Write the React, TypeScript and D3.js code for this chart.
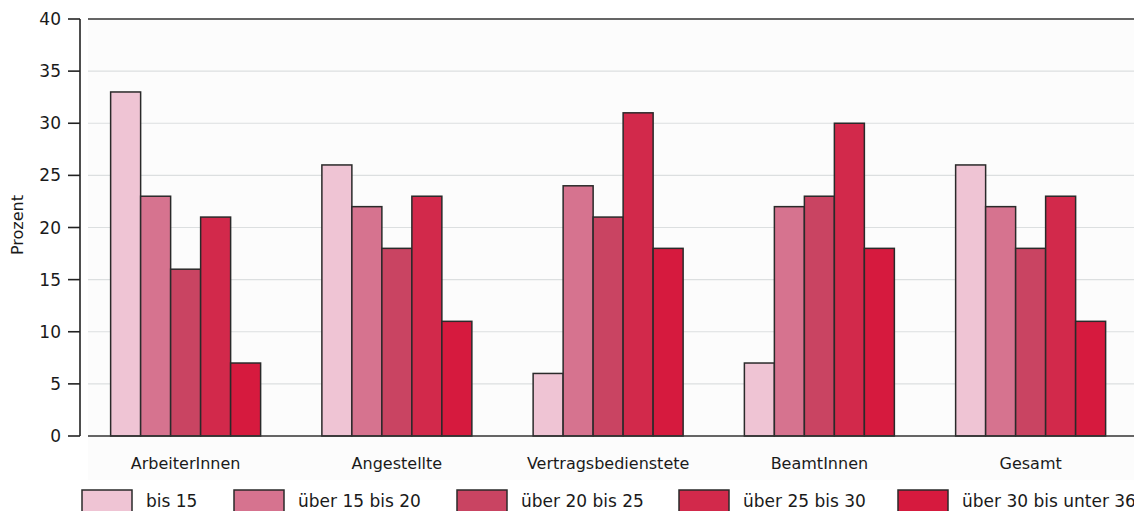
import React from "react";
import * as d3 from "d3";

const categories = ["ArbeiterInnen", "Angestellte", "Vertragsbedienstete", "BeamtInnen", "Gesamt"];
const seriesNames = ["bis 15", "über 15 bis 20", "über 20 bis 25", "über 25 bis 30", "über 30 bis unter 36"];
const seriesColors = ["#efc4d4", "#d6738f", "#c94462", "#d2294b", "#d61a3e"];
const values: number[][] = [
  [33, 23, 16, 21, 7],
  [26, 22, 18, 23, 11],
  [6, 24, 21, 31, 18],
  [7, 22, 23, 30, 18],
  [26, 22, 18, 23, 11],
];
const yTicks = [0, 5, 10, 15, 20, 25, 30, 35, 40];
const legendX = [82, 234, 457, 679, 898];

const W = 1134;
const H = 511;
const FONT = "'DejaVu Sans', sans-serif";

export default function App() {
  const axisX = 80;
  const plotLeft = 88;
  const y = d3.scaleLinear().domain([0, 40]).range([436, 19]);
  const x0 = d3
    .scaleBand<string>()
    .domain(categories)
    .range([axisX, axisX + 5 * 211.25])
    .paddingInner(0.29)
    .paddingOuter(0.145);
  const x1 = d3
    .scaleBand<string>()
    .domain(seriesNames)
    .range([0, x0.bandwidth()]);

  return (
    <svg
      width={W}
      height={H}
      style={{ position: "absolute", left: 0, top: 0, background: "#fff" }}
      fontFamily={FONT}
    >
      <rect x={plotLeft} y={y(40)} width={W - plotLeft} height={480 - y(40)} fill="#fcfcfc" />
      {/* gridlines */}
      {yTicks
        .filter((t) => t > 0 && t < 40)
        .map((t) => (
          <line key={t} x1={plotLeft} x2={W} y1={y(t)} y2={y(t)} stroke="#dcdfe0" strokeWidth={1.2} />
        ))}
      {/* top frame line */}
      <line x1={plotLeft} x2={W} y1={y(40)} y2={y(40)} stroke="#333" strokeWidth={1.6} />
      {/* bars */}
      {values.map((row, ci) => (
        <g key={categories[ci]} transform={`translate(${x0(categories[ci])},0)`}>
          {row.map((v, si) => (
            <rect
              key={si}
              x={x1(seriesNames[si])}
              y={y(v)}
              width={x1.bandwidth()}
              height={y(0) - y(v)}
              fill={seriesColors[si]}
              stroke="#2a2a2a"
              strokeWidth={1.5}
            />
          ))}
        </g>
      ))}
      {/* baseline */}
      <line x1={plotLeft} x2={W} y1={y(0)} y2={y(0)} stroke="#333" strokeWidth={1.6} />
      {/* y axis */}
      <line x1={axisX} x2={axisX} y1={y(40)} y2={y(0)} stroke="#222" strokeWidth={1.6} />
      {yTicks.map((t) => (
        <g key={t}>
          <line x1={68} x2={axisX} y1={y(t)} y2={y(t)} stroke="#222" strokeWidth={1.6} />
          <text x={61} y={y(t)} dy="0.36em" textAnchor="end" fontSize={17} fill="#1a1a1a">
            {t}
          </text>
        </g>
      ))}
      <text
        transform={`translate(23,225) rotate(-90)`}
        textAnchor="middle"
        fontSize={16}
        fill="#1a1a1a"
      >
        Prozent
      </text>
      {/* category labels */}
      {categories.map((c) => (
        <text
          key={c}
          x={(x0(c) as number) + x0.bandwidth() / 2}
          y={469}
          textAnchor="middle"
          fontSize={16}
          fill="#1a1a1a"
        >
          {c}
        </text>
      ))}
      {/* legend */}
      {seriesNames.map((s, i) => (
        <g key={s} transform={`translate(${legendX[i]},490)`}>
          <rect x={0} y={0} width={50} height={24} fill={seriesColors[i]} stroke="#2a2a2a" strokeWidth={1.5} />
          <text x={64} y={17} fontSize={17} fill="#1a1a1a">
            {s}
          </text>
        </g>
      ))}
    </svg>
  );
}
